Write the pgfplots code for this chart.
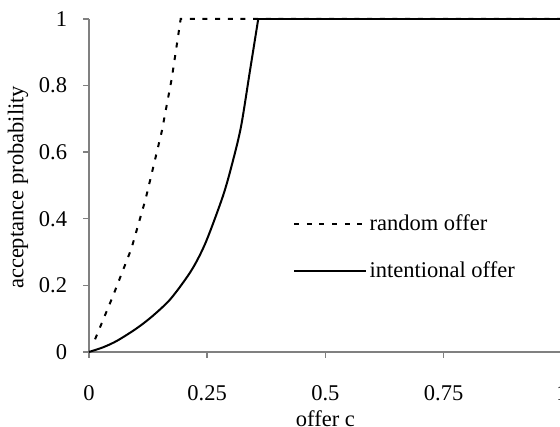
\documentclass[12pt,border=0pt]{standalone}
\usepackage{fontspec}
\setmainfont{Liberation Serif}
\usepackage{pgfplots}
\pgfplotsset{compat=1.18}

\begin{document}
\fontsize{13.5}{16}\selectfont
\begin{tikzpicture}
\begin{axis}[
    scale only axis,
    width=283.8pt, height=199.8pt,
    xmin=0, xmax=1, ymin=0, ymax=1,
    axis lines=left,
    axis line style={-, gray, line width=0.8pt},
    tick style={gray, line width=0.8pt},
    tick align=outside,
    major tick length=3.5pt,
    xtick={0,0.25,0.5,0.75,1},
    ytick={0,0.2,0.4,0.6,0.8,1},
    /pgf/number format/assume math mode=true,
    /pgf/number format/fixed,
    /pgf/number format/precision=2,
    xticklabel style={yshift=-11.8pt},
    yticklabel style={xshift=-4.9pt},
    xlabel={offer c},
    ylabel={acceptance probability},
    xlabel style={yshift=3pt},
    ylabel style={at={(axis description cs:-0.150,0.494)}, anchor=center},
    clip=false,
    legend cell align=left,
    legend image code/.code={\draw[#1] (0pt,0pt) -- (43.2pt,0pt);},
    legend style={draw=none, fill=none, inner sep=0pt, row sep=16.8pt,
        at={(axis cs:0.431,0.314)}, anchor=west,
        nodes={inner sep=0pt, inner xsep=1.5pt}},
]

% random offer
\addplot[black, line width=1.2pt, dash pattern=on 3pt off 4.6pt] coordinates {
    (0.013,0.038) (0.05,0.165) (0.09,0.311) (0.12,0.46)
    (0.154,0.662) (0.175,0.82) (0.194,1) (1,1)
};

% intentional offer
\addplot[black, line width=1.2pt, smooth] coordinates {
    (0,0) (0.03,0.014) (0.06,0.034) (0.1,0.07) (0.133,0.106)
    (0.17,0.155) (0.203,0.216) (0.225,0.265) (0.249,0.336)
    (0.284,0.471) (0.305,0.577) (0.322,0.68) (0.34,0.84) (0.358,1)
};
\addplot[black, line width=1.2pt, forget plot] coordinates {(0.358,1) (1,1)};

\legend{random offer, intentional offer}

\coordinate (bl) at (axis cs:-0.188,-0.225);
\coordinate (tr) at (axis cs:0.996,1.057);
\end{axis}
\pgfresetboundingbox
\useasboundingbox (bl) rectangle (tr);
\end{tikzpicture}
\end{document}
